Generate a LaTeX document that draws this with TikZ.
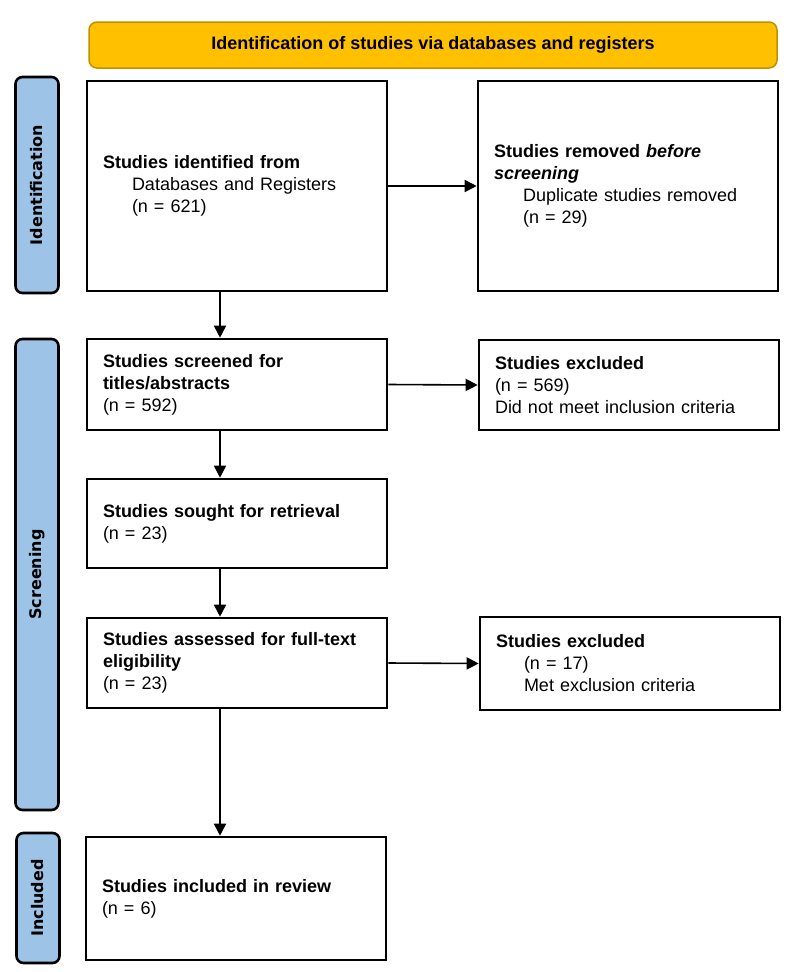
\documentclass[tikz,border=0pt]{standalone}
\usepackage{fontspec}
\setmainfont{Liberation Sans}
\newfontfamily\phasefont{DejaVu Sans}
\usepackage{xcolor}
\usetikzlibrary{positioning, arrows.meta}

\definecolor{bannergold}{RGB}{255,192,0}
\definecolor{bannerrim}{RGB}{190,145,0}
\definecolor{phaseblue}{RGB}{157,195,230}

\begin{document}
\begin{tikzpicture}[x=1pt, y=-1pt,
    every node/.style={font=\fontsize{18}{22}\selectfont},
    stagebox/.style={draw, line width=2.6pt, align=left, inner xsep=16pt, inner ysep=0pt, text width=268pt},
    phase/.style={draw, line width=2.6pt, rounded corners=7pt, fill=phaseblue, rotate=90, minimum height=43pt, inner sep=0pt, font=\phasefont\bfseries\fontsize{16}{18}\selectfont},
    flow/.style={-{Triangle[length=12pt,width=12pt]}, line width=1.6pt}]
    \useasboundingbox (0,0) rectangle (792,972);

    % ---------------- HEADER ----------------
    \node[draw=bannerrim, fill=bannergold, line width=1.5pt, rounded corners=8pt, minimum width=688pt, minimum height=46pt] (banner) at (433,45) {\bfseries Identification of studies via databases and registers};

    % ---------------- PHASE LABELS ----------------
    \node[phase, minimum width=216pt] (identphase) at (37,185) {Identification};
    \node[phase, minimum width=471pt] (screenphase) at (37,574.5) {Screening};
    \node[phase, minimum width=130pt] (inclphase) at (38,898) {Included};

    % ---------------- LEFT COLUMN ----------------
    \node[stagebox, minimum height=210pt] (identified) at (237,186) {\textbf{Studies identified from}\\ \hspace*{29pt}Databases and Registers\\ \hspace*{29pt}(n = 621)};
    \node[stagebox, minimum height=91pt] (screened) at (237,384.5) {\textbf{Studies screened for}\\ \textbf{titles/abstracts}\\ (n = 592)};
    \node[stagebox, minimum height=89pt] (sought) at (237,523.5) {\textbf{Studies sought for retrieval}\\ (n = 23)};
    \node[stagebox, minimum height=90pt] (assessed) at (237,663) {\textbf{Studies assessed for full-text}\\ \textbf{eligibility}\\ (n = 23)};
    \node[stagebox, minimum height=123pt] (included) at (236,898.5) {\textbf{Studies included in review}\\ (n = 6)};

    % ---------------- RIGHT COLUMN ----------------
    \node[stagebox, minimum height=210pt] (removed) at (628,186) {\textbf{Studies removed \textit{before}}\\ \textbf{\textit{screening}}\\ \hspace*{29pt}Duplicate studies removed\\ \hspace*{29pt}(n = 29)};
    \node[stagebox, minimum height=90pt] (excludedA) at (629,385) {\textbf{Studies excluded}\\ (n = 569)\\ Did not meet inclusion criteria};
    \node[stagebox, minimum height=93pt] (excludedB) at (630,663.5) {\textbf{Studies excluded}\\ \hspace*{28pt}(n = 17)\\ \hspace*{28pt}Met exclusion criteria};

    % ---------------- ARROWS ----------------
    \coordinate (spine) at (220,0);
    \draw[flow] (identified.south -| spine) -- (screened.north -| spine);
    \draw[flow] (screened.south -| spine) -- (sought.north -| spine);
    \draw[flow] (sought.south -| spine) -- (assessed.north -| spine);
    \draw[flow] (assessed.south -| spine) -- (included.north -| spine);

    \draw[flow] (identified.east) -- (removed.west);
    \draw[flow] (screened.east) -- (excludedA.west);
    \draw[flow] (assessed.east) -- (excludedB.west);
\end{tikzpicture}
\end{document}
